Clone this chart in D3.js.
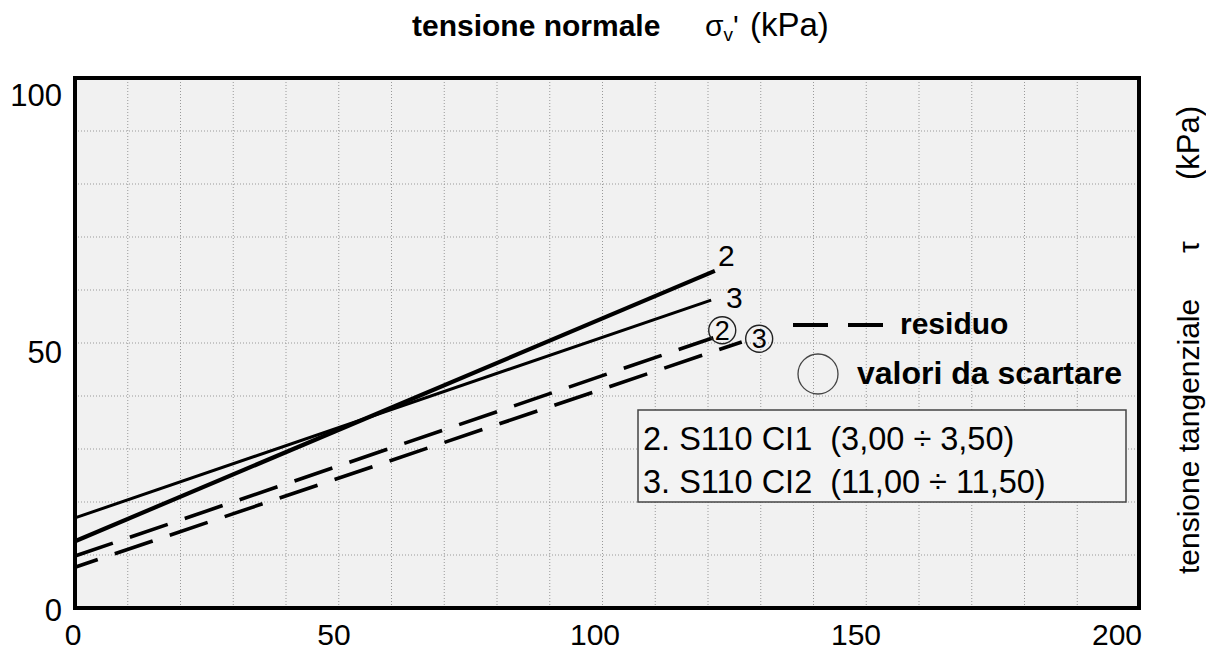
<!DOCTYPE html>
<html>
<head>
<meta charset="utf-8">
<script src="https://cdn.jsdelivr.net/npm/d3@7"></script>
<style>
body { margin: 0; background: #fff; }
svg { display: block; font-family: "Liberation Sans", Arial, sans-serif; }
</style>
</head>
<body>
<div id="chart"></div>
<script>
// dati
var xTicks = [0, 50, 100, 150, 200];
var yTicks = [0, 50, 100];
var picco2 = [[0, 12.6], [121.3, 63.6]];
var picco3 = [[0, 17.0], [120.6, 58.1]];
var residuo2 = [[0, 9.8], [121.0, 51.0]];
var residuo3 = [[0, 7.7], [126.4, 50.2]];
var etichette = [{id: "2", x: 123.5, y: 66.5}, {id: "3", x: 125.0, y: 58.5}];
var scartati = [{id: "2", x: 122.7, y: 52.4}, {id: "3", x: 129.7, y: 50.8}];
var campioni = ["2. S110 CI1  (3,00 ÷ 3,50)", "3. S110 CI2  (11,00 ÷ 11,50)"];

var svg = d3.select("#chart").append("svg")
	.attr("width", 1206)
	.attr("height", 652);

var x = d3.scaleLinear().domain([0, 200]).range([75, 1130]);
var y = d3.scaleLinear().domain([0, 100]).range([608, 78]);
// le etichette degli assi nel disegno non stanno proprio sulle tacche
var xLab = d3.scaleLinear().domain([0, 200]).range([73, 1117]);
var yLab = d3.scaleLinear().domain([0, 100]).range([610, 95]);

// sfondo
svg.append("rect")
	.attr("x", 75).attr("y", 78)
	.attr("width", 1064).attr("height", 530)
	.attr("fill", "#f1f1f1");

// griglia
svg.append("g").selectAll("line")
	.data(d3.range(10, 200, 10))
	.enter().append("line")
	.attr("x1", function(d) { return x(d); })
	.attr("x2", function(d) { return x(d); })
	.attr("y1", y(0)).attr("y2", y(100))
	.attr("stroke", "#999")
	.attr("stroke-dasharray", "1,2");

svg.append("g").selectAll("line")
	.data(d3.range(10, 100, 10))
	.enter().append("line")
	.attr("y1", function(d) { return y(d); })
	.attr("y2", function(d) { return y(d); })
	.attr("x1", 75).attr("x2", 1139)
	.attr("stroke", "#999")
	.attr("stroke-dasharray", "1,2");

var line = d3.line()
	.x(function(d) { return x(d[0]); })
	.y(function(d) { return y(d[1]); });

svg.append("path").datum(picco2)
	.attr("d", line).attr("fill", "none")
	.attr("stroke", "#000").attr("stroke-width", 4.2);
svg.append("path").datum(picco3)
	.attr("d", line).attr("fill", "none")
	.attr("stroke", "#000").attr("stroke-width", 3);
svg.append("path").datum(residuo2)
	.attr("d", line).attr("fill", "none")
	.attr("stroke", "#000").attr("stroke-width", 3.6)
	.attr("stroke-dasharray", "40,18");
svg.append("path").datum(residuo3)
	.attr("d", line).attr("fill", "none")
	.attr("stroke", "#000").attr("stroke-width", 3.6)
	.attr("stroke-dasharray", "40,18")
	.attr("stroke-dashoffset", 16);

// numeri delle rette
svg.append("g").selectAll("text")
	.data(etichette)
	.enter().append("text")
	.attr("x", function(d) { return x(d.x); })
	.attr("y", function(d) { return y(d.y); })
	.attr("dy", "0.35em")
	.attr("text-anchor", "middle")
	.attr("font-size", 30)
	.text(function(d) { return d.id; });

// valori da scartare
var sc = svg.append("g").selectAll("g")
	.data(scartati)
	.enter().append("g")
	.attr("transform", function(d) { return "translate(" + x(d.x) + "," + y(d.y) + ")"; });
sc.append("circle")
	.attr("r", 13.5)
	.attr("fill", "none")
	.attr("stroke", "#222")
	.attr("stroke-width", 1.4);
sc.append("text")
	.attr("dy", "0.36em")
	.attr("text-anchor", "middle")
	.attr("font-size", 27)
	.text(function(d) { return d.id; });

// cornice
svg.append("rect")
	.attr("x", 75).attr("y", 78)
	.attr("width", 1064).attr("height", 530)
	.attr("fill", "none")
	.attr("stroke", "#000")
	.attr("stroke-width", 4);

// etichette assi
svg.append("g").selectAll("text")
	.data(xTicks)
	.enter().append("text")
	.attr("x", function(d) { return xLab(d); })
	.attr("y", 645)
	.attr("text-anchor", "middle")
	.attr("font-size", 30)
	.text(function(d) { return d; });

svg.append("g").selectAll("text")
	.data(yTicks)
	.enter().append("text")
	.attr("x", 62)
	.attr("y", function(d) { return yLab(d); })
	.attr("dy", "0.35em")
	.attr("text-anchor", "end")
	.attr("font-size", 31)
	.text(function(d) { return d; });

// titolo
svg.append("text")
	.attr("x", 412).attr("y", 36)
	.attr("font-size", 30)
	.attr("font-weight", "bold")
	.text("tensione normale");
var t2 = svg.append("text")
	.attr("x", 705).attr("y", 36)
	.attr("font-size", 30);
t2.append("tspan").text("σ");
t2.append("tspan").attr("font-size", 19).attr("dy", 5).text("v");
t2.append("tspan").attr("dy", -5).text("'");
t2.append("tspan")
	.attr("x", 750)
	.attr("font-size", 33)
	.text("(kPa)");

// titolo asse verticale
svg.append("text")
	.attr("transform", "translate(1199,574) rotate(-90)")
	.attr("font-size", 30)
	.text("tensione tangenziale");
svg.append("text")
	.attr("transform", "translate(1199,247) rotate(-90)")
	.attr("text-anchor", "middle")
	.attr("font-size", 30)
	.text("τ");
svg.append("text")
	.attr("transform", "translate(1199,106) rotate(-90)")
	.attr("text-anchor", "end")
	.attr("font-size", 31)
	.text("(kPa)");

// legenda
svg.append("line")
	.attr("x1", 793).attr("x2", 888)
	.attr("y1", 325).attr("y2", 325)
	.attr("stroke", "#000")
	.attr("stroke-width", 4)
	.attr("stroke-dasharray", "35,20");
svg.append("text")
	.attr("x", 900).attr("y", 334)
	.attr("font-size", 30)
	.attr("font-weight", "bold")
	.text("residuo");
svg.append("circle")
	.attr("cx", 818).attr("cy", 374)
	.attr("r", 20)
	.attr("fill", "none")
	.attr("stroke", "#444")
	.attr("stroke-width", 1.3);
svg.append("text")
	.attr("x", 857).attr("y", 384)
	.attr("font-size", 32)
	.attr("font-weight", "bold")
	.text("valori da scartare");

// riquadro campioni
svg.append("rect")
	.attr("x", 638).attr("y", 410)
	.attr("width", 488).attr("height", 92)
	.attr("fill", "#f3f3f3")
	.attr("stroke", "#444")
	.attr("stroke-width", 1.5);
svg.append("g").selectAll("text")
	.data(campioni)
	.enter().append("text")
	.attr("x", 643)
	.attr("y", function(d, i) { return 450 + i * 43; })
	.attr("font-size", 32.5)
	.style("white-space", "pre")
	.text(function(d) { return d; });
</script>
</body>
</html>
